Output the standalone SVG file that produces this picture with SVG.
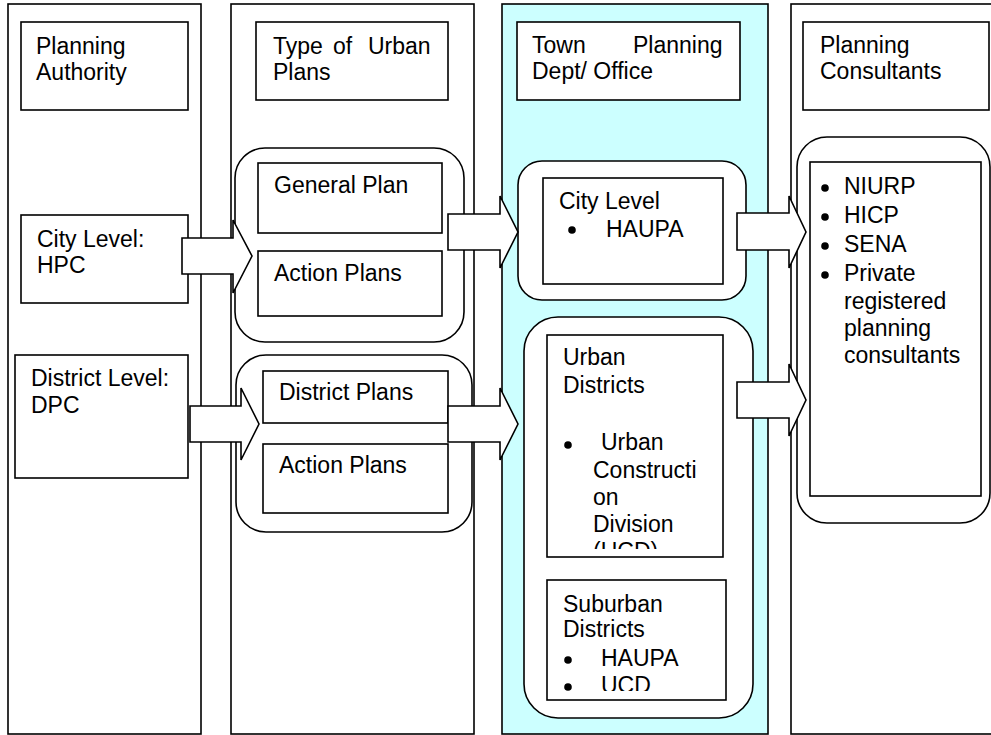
<svg xmlns="http://www.w3.org/2000/svg" width="991" height="735" viewBox="0 0 991 735">
  <style>
    .col { fill: #ffffff; stroke: #000; stroke-width: 1.6; }
    .cyan { fill: #ccffff; }
    .box { fill: #ffffff; stroke: #000; stroke-width: 1.6; }
    .grp { fill: #ffffff; stroke: #000; stroke-width: 1.6; }
    .arrow { fill: #ffffff; stroke: #000; stroke-width: 1.6; stroke-linejoin: miter; }
    text { font-family: "Liberation Sans", Arial, sans-serif; font-size: 23px; fill: #000; }
    .dot { fill: #000; }
  </style>
  <defs>
    <clipPath id="clip-urban"><rect x="547" y="335" width="176" height="214"/></clipPath>
    <clipPath id="clip-suburban"><rect x="547" y="580" width="179" height="111"/></clipPath>
  </defs>

  <rect width="991" height="735" fill="#ffffff"/>

  <!-- column 1: planning authority -->
  <g id="col-authority">
    <rect class="col" x="8" y="4" width="193" height="730"/>
    <rect class="box" x="21" y="22" width="167" height="88"/>
    <text x="36" y="54">Planning</text>
    <text x="36" y="80">Authority</text>
  </g>

  <!-- column 2: type of urban plans -->
  <g id="col-plans">
    <rect class="col" x="231" y="4" width="243" height="730"/>
    <rect class="box" x="256" y="22" width="192" height="78"/>
    <text x="273" y="54">Type</text>
    <text x="333" y="54">of</text>
    <text x="368" y="54">Urban</text>
    <text x="273" y="80">Plans</text>
  </g>

  <!-- column 3: town planning department -->
  <g id="col-dept">
    <rect class="col cyan" x="502" y="4" width="266" height="730"/>
    <rect class="box" x="517" y="22" width="223" height="78"/>
    <text x="532" y="53">Town</text>
    <text x="633" y="53">Planning</text>
    <text x="532" y="79">Dept/ Office</text>
  </g>

  <!-- column 4: planning consultants -->
  <g id="col-consultants">
    <rect class="col" x="791" y="4" width="204" height="730"/>
    <rect class="box" x="803" y="22" width="186" height="88"/>
    <text x="820" y="53">Planning</text>
    <text x="820" y="79">Consultants</text>
  </g>

  <!-- authorities -->
  <g id="node-hpc">
    <rect class="box" x="21" y="215" width="167" height="88"/>
    <text x="37" y="247">City Level:</text>
    <text x="37" y="273">HPC</text>
  </g>
  <g id="node-dpc">
    <rect class="box" x="15" y="355" width="173" height="123"/>
    <text x="31" y="386">District Level:</text>
    <text x="31" y="413">DPC</text>
  </g>

  <!-- city-level plans -->
  <g id="node-city-plans">
    <rect class="grp" x="235" y="148" width="229" height="194" rx="30" ry="30"/>
    <rect class="box" x="258" y="163" width="184" height="70"/>
    <text x="274" y="193">General Plan</text>
    <rect class="box" x="258" y="251" width="184" height="65"/>
    <text x="274" y="281">Action Plans</text>
  </g>

  <!-- district-level plans -->
  <g id="node-district-plans">
    <rect class="grp" x="236" y="355" width="236" height="177" rx="30" ry="30"/>
    <rect class="box" x="263" y="371" width="185" height="52"/>
    <text x="279" y="400">District Plans</text>
    <rect class="box" x="263" y="444" width="185" height="69"/>
    <text x="279" y="473">Action Plans</text>
  </g>

  <!-- city-level office -->
  <g id="node-city-office">
    <rect class="grp" x="518" y="161" width="228" height="139" rx="24" ry="24"/>
    <rect class="box" x="543" y="178" width="180" height="106"/>
    <text x="559" y="209">City Level</text>
    <circle class="dot" cx="572" cy="230" r="3.8"/>
    <text x="606" y="237">HAUPA</text>
  </g>

  <!-- district offices -->
  <g id="node-district-office">
    <rect class="grp" x="524" y="317" width="229" height="401" rx="34" ry="34"/>
    <rect class="box" x="547" y="335" width="176" height="222"/>
    <g clip-path="url(#clip-urban)">
      <text x="563" y="365">Urban</text>
      <text x="563" y="393">Districts</text>
      <circle class="dot" cx="568" cy="445" r="3.8"/>
      <text x="601" y="450">Urban</text>
      <text x="593" y="478">Constructi</text>
      <text x="593" y="505">on</text>
      <text x="593" y="532">Division</text>
      <text x="593" y="559">(UCD)</text>
    </g>
    <rect class="box" x="547" y="580" width="179" height="120"/>
    <g clip-path="url(#clip-suburban)">
      <text x="563" y="612">Suburban</text>
      <text x="563" y="637">Districts</text>
      <circle class="dot" cx="568" cy="660" r="3.8"/>
      <text x="601" y="666">HAUPA</text>
      <circle class="dot" cx="568" cy="687" r="3.8"/>
      <text x="601" y="693">UCD</text>
    </g>
  </g>

  <!-- consultants list -->
  <g id="node-consultant-list">
    <rect class="grp" x="797" y="137" width="193" height="386" rx="30" ry="30"/>
    <rect class="box" x="810" y="162" width="171" height="334"/>
    <circle class="dot" cx="825" cy="188" r="3.8"/>
    <text x="844" y="194">NIURP</text>
    <circle class="dot" cx="825" cy="217" r="3.8"/>
    <text x="844" y="223">HICP</text>
    <circle class="dot" cx="825" cy="246" r="3.8"/>
    <text x="844" y="252">SENA</text>
    <circle class="dot" cx="825" cy="275" r="3.8"/>
    <text x="844" y="281">Private</text>
    <text x="844" y="309">registered</text>
    <text x="844" y="336">planning</text>
    <text x="844" y="363">consultants</text>
  </g>

  <!-- block arrows between columns -->
  <g id="connectors">
    <polygon class="arrow" points="182,238 233,238 233,220 252,256 233,293 233,274 182,274"/>
    <polygon class="arrow" points="190,406 241,406 241,388 259,424 241,460 241,442 190,442"/>
    <polygon class="arrow" points="448,214 500,214 500,196 518,232 500,268 500,250 448,250"/>
    <polygon class="arrow" points="448,406 500,406 500,388 518,424 500,460 500,442 448,442"/>
    <polygon class="arrow" points="737,213 789,213 789,196 806,232 789,268 789,250 737,250"/>
    <polygon class="arrow" points="737,382 789,382 789,364 806,400 789,436 789,418 737,418"/>
  </g>
</svg>
